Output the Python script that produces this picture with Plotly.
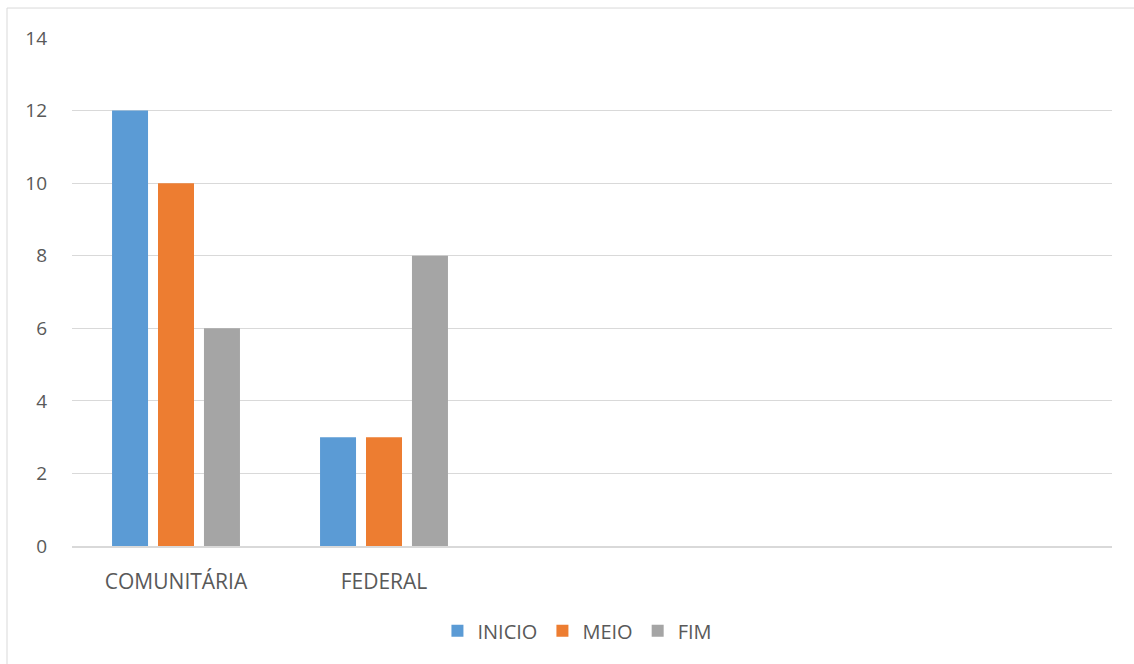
import plotly.graph_objects as go

categories = ["COMUNITÁRIA", "FEDERAL", " ", "  ", "   "]
inicio = [12, 3, None, None, None]
meio = [10, 3, None, None, None]
fim = [6, 8, None, None, None]
series_names = ["INICIO", "MEIO", "FIM"]
colors = ["#5B9BD5", "#ED7D31", "#A5A5A5"]

fig = go.Figure()
for name, vals, col in zip(series_names, [inicio, meio, fim], colors):
    fig.add_trace(go.Bar(x=categories, y=vals, name=name, marker_color=col,
                         marker_line_width=0))

font_family = "Open Sans"
fs = 20
fig.update_layout(
    width=1134, height=664,
    margin=dict(l=72, r=22, t=38, b=118),
    paper_bgcolor="white", plot_bgcolor="white",
    barmode="group", bargap=0.337, bargroupgap=0.217,
    font=dict(family=font_family, size=fs, color="#595959"),
    showlegend=True,
    legend=dict(orientation="h", x=0.486, xanchor="center", y=-0.167, yanchor="middle",
                font=dict(size=fs, color="#595959"), itemwidth=30, traceorder="normal"),
    xaxis=dict(type="category", categoryorder="array", categoryarray=categories,
               showgrid=False, showline=True, linecolor="#d9d9d9", linewidth=1.5,
               ticks="", ticklabelstandoff=16, tickfont=dict(size=21, color="#595959")),
    yaxis=dict(range=[0, 14], dtick=2, showgrid=True, gridcolor="#d9d9d9", gridwidth=1,
               zeroline=False, showline=False, ticks="", ticklabelstandoff=24,
               tickfont=dict(size=19, color="#595959")),
    shapes=[dict(type="rect", xref="paper", yref="paper", x0=-0.0625, x1=1.2,
                 y0=-0.3, y1=1.059, line=dict(color="#d9d9d9", width=1),
                 fillcolor="rgba(0,0,0,0)", layer="below")],
)
fig.write_html("out.html")
